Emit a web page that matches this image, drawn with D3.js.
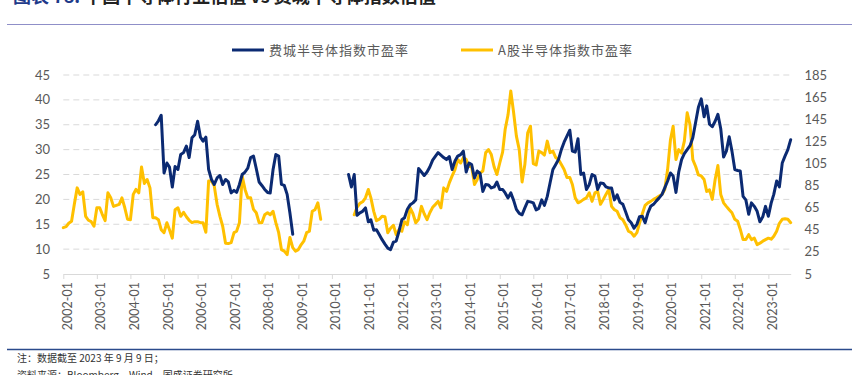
<!DOCTYPE html>
<html><head><meta charset="utf-8">
<script src="https://cdn.jsdelivr.net/npm/d3@7"></script>
<style>body{margin:0;background:#fff;overflow:hidden}</style>
</head><body><svg id="c" width="859" height="375"></svg>
<script>
// ---- data (monthly values) ----
const seriesNames = ["费城半导体指数市盈率", "A股半导体指数市盈率"];

// 费城半导体指数市盈率 (left axis)
const phlxSeg1Start = "2004-10";
const phlxSeg1 = [35.0,35.8,36.9,
  25.3,27.3,26.5,22.5,26.6,26.0,29.0,29.4,30.7,28.4,32.4,33.0,
  35.7,32.5,31.7,32.5,26.0,24.0,23.0,24.3,24.8,23.0,24.0,23.5,
  21.3,21.8,21.4,23.0,25.0,25.5,26.3,28.4,28.7,26.2,23.5,22.8,
  22.0,21.4,21.3,26.0,29.0,28.7,23.0,22.8,21.0,17.3,13.0];
const phlxSeg2Start = "2010-07";
const phlxSeg2 = [25.0,22.5,25.0,16.8,17.3,17.6,
  18.3,15.5,15.9,13.8,13.9,12.9,11.9,11.0,10.2,9.9,11.4,11.6,
  13.6,15.9,16.3,18.0,18.9,19.3,19.9,26.2,25.5,24.8,25.5,26.5,
  27.9,28.7,29.4,28.9,28.4,28.0,28.6,26.0,27.7,28.7,29.0,29.7,
  25.5,27.3,27.0,24.3,25.7,25.2,21.6,23.0,22.9,22.3,22.5,23.5,
  22.0,22.0,21.3,20.3,21.3,19.8,18.0,17.2,16.9,18.3,19.6,19.5,
  19.3,17.9,18.2,19.9,18.8,20.6,23.3,26.0,27.0,28.0,30.0,31.5,
  32.7,33.9,29.7,29.5,32.2,25.0,25.3,22.0,23.0,25.0,24.7,22.0,
  23.3,23.2,22.5,22.3,22.3,19.9,20.9,19.4,19.0,17.5,15.9,15.3,
  14.2,15.0,16.5,16.6,15.3,17.3,18.6,19.0,19.7,20.3,21.0,22.3,
  23.7,25.3,24.7,21.4,25.5,28.0,29.2,30.0,30.8,32.4,35.5,38.5,
  40.2,36.6,38.8,35.1,34.6,35.7,37.1,34.2,28.5,29.7,32.6,29.7,
  26.0,25.8,25.7,20.6,19.9,17.0,19.3,18.6,17.6,15.5,16.5,18.6,
  16.6,19.3,21.0,23.7,22.5,27.3,28.7,30.0,32.0];

// A股半导体指数市盈率 (right axis)
const ashareSeg1Start = "2002-01";
const ashareSeg1 = [
  46.9,47.8,50.9,52.7,68.0,82.9,77.0,79.3,57.2,53.6,52.3,48.2,
  64.9,64.9,59.0,53.2,78.4,73.9,66.2,67.1,68.0,73.9,64.9,54.5,
  54.1,77.0,81.5,78.4,101.8,86.9,90.5,82.9,55.9,55.9,54.1,45.1,
  42.4,51.4,45.1,37.4,63.1,64.9,57.2,60.8,56.8,53.6,51.4,52.3,
  52.3,51.4,51.4,42.8,89.2,89.2,84.7,68.0,57.2,48.2,32.9,32.5,
  33.4,42.4,43.7,51.4,93.7,81.5,73.9,73.9,63.5,60.4,51.4,51.4,
  58.6,60.4,58.6,61.7,51.4,42.4,27.1,25.7,22.5,38.0,28.9,25.7,
  27.1,31.6,34.7,42.4,43.7,61.7,63.1,69.4,54.5];
const ashareSeg2Start = "2010-09";
const ashareSeg2 = [58.6,65.3,68.9,70.3,
  73.9,81.5,73.9,61.7,53.2,54.5,57.2,56.8,42.4,46.4,49.1,40.6,
  45.1,43.7,52.3,49.6,64.9,59.5,51.4,54.5,66.2,59.5,54.1,60.4,
  65.3,68.0,70.7,64.9,82.9,79.7,87.4,93.7,99.5,108.5,105.4,110.3,
  108.5,102.2,102.2,86.0,90.5,96.4,98.2,114.8,117.5,113.0,101.8,95.0,
  105.4,115.3,136.0,149.0,170.6,150.8,129.7,117.5,88.3,104.0,132.8,138.7,
  104.9,103.6,116.2,114.8,112.6,125.2,114.8,116.2,110.3,108.5,104.0,99.5,
  92.3,92.3,86.0,73.9,69.4,70.7,72.5,73.9,78.4,70.7,78.4,79.7,
  68.0,72.5,77.0,81.5,66.2,63.1,61.7,55.9,54.1,49.6,43.7,42.4,
  39.2,42.4,50.9,59.5,67.1,69.4,70.7,72.5,73.9,75.5,77.0,81.5,
  99.5,126.5,138.7,108.5,117.5,114.4,125.2,150.8,140.0,108.5,102.2,94.6,
  93.7,90.5,79.7,81.1,72.5,90.5,103.1,77.0,69.4,66.2,63.1,60.4,
  54.5,52.7,45.5,36.1,36.1,40.6,36.1,37.4,31.6,32.9,34.7,36.1,
  37.4,36.5,39.2,43.7,50.9,54.5,55.0,54.5,51.4];

const leftTicks = [5,10,15,20,25,30,35,40,45];
const rightTicks = [5,25,45,65,85,105,125,145,165,185];
const xStart = "2002-01", xEnd = "2023-09";
const xTickLabels = ["2002-01","2003-01","2004-01","2005-01","2006-01","2007-01","2008-01",
  "2009-01","2010-01","2011-01","2012-01","2013-01","2014-01","2015-01","2016-01",
  "2017-01","2018-01","2019-01","2020-01","2021-01","2022-01","2023-01"];

const titleLabel = "图表 78:";
const titleText = "中国半导体行业估值 vs 费城半导体指数估值";
const note1 = "注：数据截至 2023 年 9 月 9 日；";
const note2 = "资料来源：Bloomberg，Wind，国盛证券研究所";

// ---- drawing ----
const parse = d3.timeParse("%Y-%m");
const svg = d3.select("#c");
const blue = "#0b2a72", yellow = "#ffc000", txt = "#595959";
const numFont = "Lato, 'Liberation Sans', sans-serif";
const cjkFont = "'Noto Sans CJK SC', sans-serif";

const x = d3.scaleTime().domain([parse(xStart), parse(xEnd)]).range([63.3, 790.7]);
const yL = d3.scaleLinear().domain([5,45]).range([274,75]);
const yR = d3.scaleLinear().domain([5,185]).range([274,75]);

// title (cut at the top, as in the reference)
const t = svg.append("text").attr("x",13).attr("y",3)
  .style("font-family",cjkFont).style("font-size","18px");
t.append("tspan").attr("fill","#1f3a8a").attr("font-weight","bold").text(titleLabel+" ");
t.append("tspan").attr("fill","#222").attr("font-weight","bold").text(titleText);
svg.append("line").attr("x1",7).attr("x2",852).attr("y1",24.5).attr("y2",24.5)
  .attr("stroke","#8f8fc8").attr("stroke-width",1.2);

// grid
svg.append("g").selectAll("line").data(leftTicks.filter(d=>d>5)).join("line")
  .attr("x1",63.3).attr("x2",790.7).attr("y1",d=>yL(d)).attr("y2",d=>yL(d))
  .attr("stroke","#d9d9d9").attr("stroke-width",1).attr("stroke-dasharray","6,4");

// x axis
const xAxis = d3.axisBottom(x).tickValues(xTickLabels.map(parse))
  .tickFormat(d3.timeFormat("%Y-%m")).tickSize(5).tickSizeOuter(0);
const gx = svg.append("g").attr("transform","translate(0,274)").call(xAxis);
gx.select(".domain").attr("stroke","#d9d9d9").attr("stroke-width",1.2);
gx.selectAll(".tick line").attr("stroke","#d9d9d9");
gx.selectAll(".tick text").attr("transform","translate(8,8) rotate(-90)")
  .attr("x",0).attr("y",0).attr("dy",0).attr("text-anchor","end")
  .attr("fill",txt).style("font-family",numFont).style("font-size","12.5px");

// left axis labels
svg.append("g").selectAll("text").data(leftTicks).join("text")
  .attr("x",50).attr("y",d=>yL(d)).attr("dy","0.35em").attr("text-anchor","end")
  .attr("fill",txt).style("font-family",numFont).style("font-size","13px").text(d=>d);
// right axis labels
svg.append("g").selectAll("text").data(rightTicks).join("text")
  .attr("x",804.5).attr("y",d=>yR(d)).attr("dy","0.35em").attr("text-anchor","start")
  .attr("fill",txt).style("font-family",numFont).style("font-size","13px").text(d=>d);

// series
function seg(start, vals){
  const s = parse(start);
  return vals.map((v,i)=>({date:d3.timeMonth.offset(s,i), v}));
}
const lineL = d3.line().x(d=>x(d.date)).y(d=>yL(d.v));
const lineR = d3.line().x(d=>x(d.date)).y(d=>yR(d.v));
[[ashareSeg1Start,ashareSeg1],[ashareSeg2Start,ashareSeg2]].forEach(([s,v])=>{
  svg.append("path").datum(seg(s,v)).attr("d",lineR).attr("fill","none")
    .attr("stroke",yellow).attr("stroke-width",3).attr("stroke-linejoin","round").attr("stroke-linecap","round");
});
[[phlxSeg1Start,phlxSeg1],[phlxSeg2Start,phlxSeg2]].forEach(([s,v])=>{
  svg.append("path").datum(seg(s,v)).attr("d",lineL).attr("fill","none")
    .attr("stroke",blue).attr("stroke-width",3).attr("stroke-linejoin","round").attr("stroke-linecap","round");
});

// legend
const leg = [{name:seriesNames[0],c:blue,x:232},{name:seriesNames[1],c:yellow,x:461}];
leg.forEach(l=>{
  svg.append("line").attr("x1",l.x).attr("x2",l.x+32).attr("y1",50).attr("y2",50)
    .attr("stroke",l.c).attr("stroke-width",3);
  svg.append("text").attr("x",l.x+37).attr("y",50).attr("dy","0.36em")
    .attr("fill",txt).style("font-family",cjkFont).style("font-size","13px")
    .style("letter-spacing","1px").text(l.name);
});

// footer
svg.append("line").attr("x1",7).attr("x2",852).attr("y1",349.5).attr("y2",349.5)
  .attr("stroke","#2b4a8c").attr("stroke-width",1.3);
svg.append("text").attr("x",17).attr("y",362).attr("fill","#333")
  .style("font-family",cjkFont).style("font-size","10px").text(note1);
svg.append("text").attr("x",17).attr("y",379).attr("fill","#333")
  .style("font-family",cjkFont).style("font-size","10px").text(note2);
</script></body></html>
